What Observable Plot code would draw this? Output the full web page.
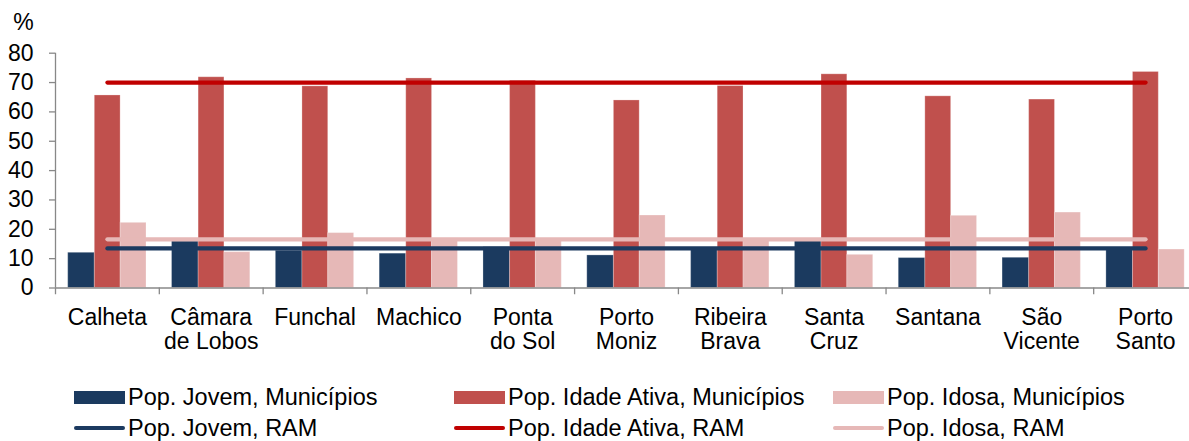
<!DOCTYPE html>
<html><head><meta charset="utf-8">
<script src="https://cdn.jsdelivr.net/npm/d3@7"></script>
<script src="https://cdn.jsdelivr.net/npm/@observablehq/plot@0.6"></script>
<style>
html,body{margin:0;padding:0;background:#fff;overflow:hidden;width:1189px;height:441px}
#chart svg{display:block;max-width:none !important}
#legend{position:relative;height:66px;font:23.5px "Liberation Sans",Arial,sans-serif;color:#000}
.item{position:absolute;display:flex;align-items:center;height:30px;white-space:nowrap}
.sw{width:51px;margin-right:3px}
</style></head><body>
<div id="chart"></div><div id="legend"></div>
<script>
const municipalities = ["Calheta","Câmara de Lobos","Funchal","Machico","Ponta do Sol","Porto Moniz","Ribeira Brava","Santa Cruz","Santana","São Vicente","Porto Santo"];
const tickLabels = ["Calheta","Câmara\nde Lobos","Funchal","Machico","Ponta\ndo Sol","Porto\nMoniz","Ribeira\nBrava","Santa\nCruz","Santana","São\nVicente","Porto\nSanto"];
const jovemMun = [12.0, 15.9, 12.7, 11.7, 13.9, 11.1, 13.6, 16.0, 10.2, 10.3, 13.3];
const ativaMun = [65.6, 71.8, 68.7, 71.4, 70.6, 63.9, 68.8, 72.8, 65.3, 64.2, 73.6];
const idosaMun = [22.2, 12.2, 18.7, 16.9, 16.5, 24.7, 16.5, 11.3, 24.6, 25.7, 13.1];
const munSeries = ["Pop. Jovem, Municípios","Pop. Idade Ativa, Municípios","Pop. Idosa, Municípios"];
const ramSeries = ["Pop. Jovem, RAM","Pop. Idade Ativa, RAM","Pop. Idosa, RAM"];
const ramValues = [13.5, 70.0, 16.6];
const yTicks = [0,10,20,30,40,50,60,70,80];
const unitLabel = "%";

const barColors = ["#1b3a5f","#c0504d","#e6b8b7"];
const lineColors = ["#1c3a60","#c00000","#e6b8b7"];

const W = 1197, ML = 55, H = 375, MT = 52.7, MB = 87.5;
const bw = (W - ML) / municipalities.length;
const insets = [[12.7, bw - 39.3], [39.3, bw - 65.1], [65.1, bw - 91]];

const seriesVals = [jovemMun, ativaMun, idosaMun];
const barData = seriesVals.map(vals => municipalities.map((m, i) => ({muni: m, value: vals[i]})));
const lineData = ramSeries.flatMap((s, k) => municipalities.map(m => ({muni: m, series: s, value: ramValues[k]})));

const marks = [];
barData.forEach((rows, k) => {
  marks.push(Plot.barY(rows, {x: "muni", y: "value", fill: barColors[k], insetLeft: insets[k][0], insetRight: insets[k][1], stroke: "#fff", strokeOpacity: 0.25, strokeWidth: 1}));
});
ramSeries.forEach((s, k) => {
  marks.push(Plot.lineY(lineData.filter(d => d.series === s), {x: "muni", y: "value", stroke: lineColors[k], strokeWidth: 4.2, strokeLinecap: "round"}));
});
marks.push(Plot.ruleY([0], {stroke: "#888", strokeWidth: 1.3}));
marks.push(Plot.ruleX([municipalities[0]], {x: d => d, dx: -bw / 2, y1: 0, y2: 80, stroke: "#888", strokeWidth: 1.3}));
marks.push(Plot.ruleX(municipalities, {x: d => d, dx: -bw / 2, y1: 0, y2: -2.3, stroke: "#888", strokeWidth: 1.3}));
marks.push(Plot.axisY(yTicks, {tickSize: 6, tickPadding: 16, stroke: "#888", strokeWidth: 1.3, fill: "black", label: null}));
marks.push(Plot.axisX(municipalities, {tickSize: 0, tickPadding: 20, fill: "black", label: null, lineHeight: 1.05, tickFormat: d => tickLabels[municipalities.indexOf(d)]}));
marks.push(Plot.text([unitLabel], {text: d => d, frameAnchor: "top-left", dx: -32, dy: -31, textAnchor: "middle", lineAnchor: "middle", fill: "black"}));

const chart = Plot.plot({
  width: W, height: H,
  marginLeft: ML, marginRight: 0, marginTop: MT, marginBottom: MB,
  style: {fontFamily: '"Liberation Sans", Arial, sans-serif', fontSize: "23px", background: "white", overflow: "visible", maxWidth: "none"},
  x: {type: "band", domain: municipalities, padding: 0, round: false},
  y: {domain: [0, 80]},
  marks
});
chart.style.maxWidth = "none";
chart.style.width = W + "px";
chart.style.height = H + "px";
document.getElementById("chart").appendChild(chart);

const legend = document.getElementById("legend");
const cols = [74, 454, 833];
const rows = [7, 38];
munSeries.forEach((s, k) => {
  const it = document.createElement("div");
  it.className = "item"; it.style.left = cols[k] + "px"; it.style.top = rows[0] + "px";
  it.innerHTML = `<span class="sw" style="height:13px;background:${barColors[k]}"></span><span>${s}</span>`;
  legend.appendChild(it);
});
ramSeries.forEach((s, k) => {
  const it = document.createElement("div");
  it.className = "item"; it.style.left = cols[k] + "px"; it.style.top = rows[1] + "px";
  it.innerHTML = `<span class="sw" style="height:4px;border-radius:2px;background:${lineColors[k]}"></span><span>${s}</span>`;
  legend.appendChild(it);
});
</script>
</body></html>
